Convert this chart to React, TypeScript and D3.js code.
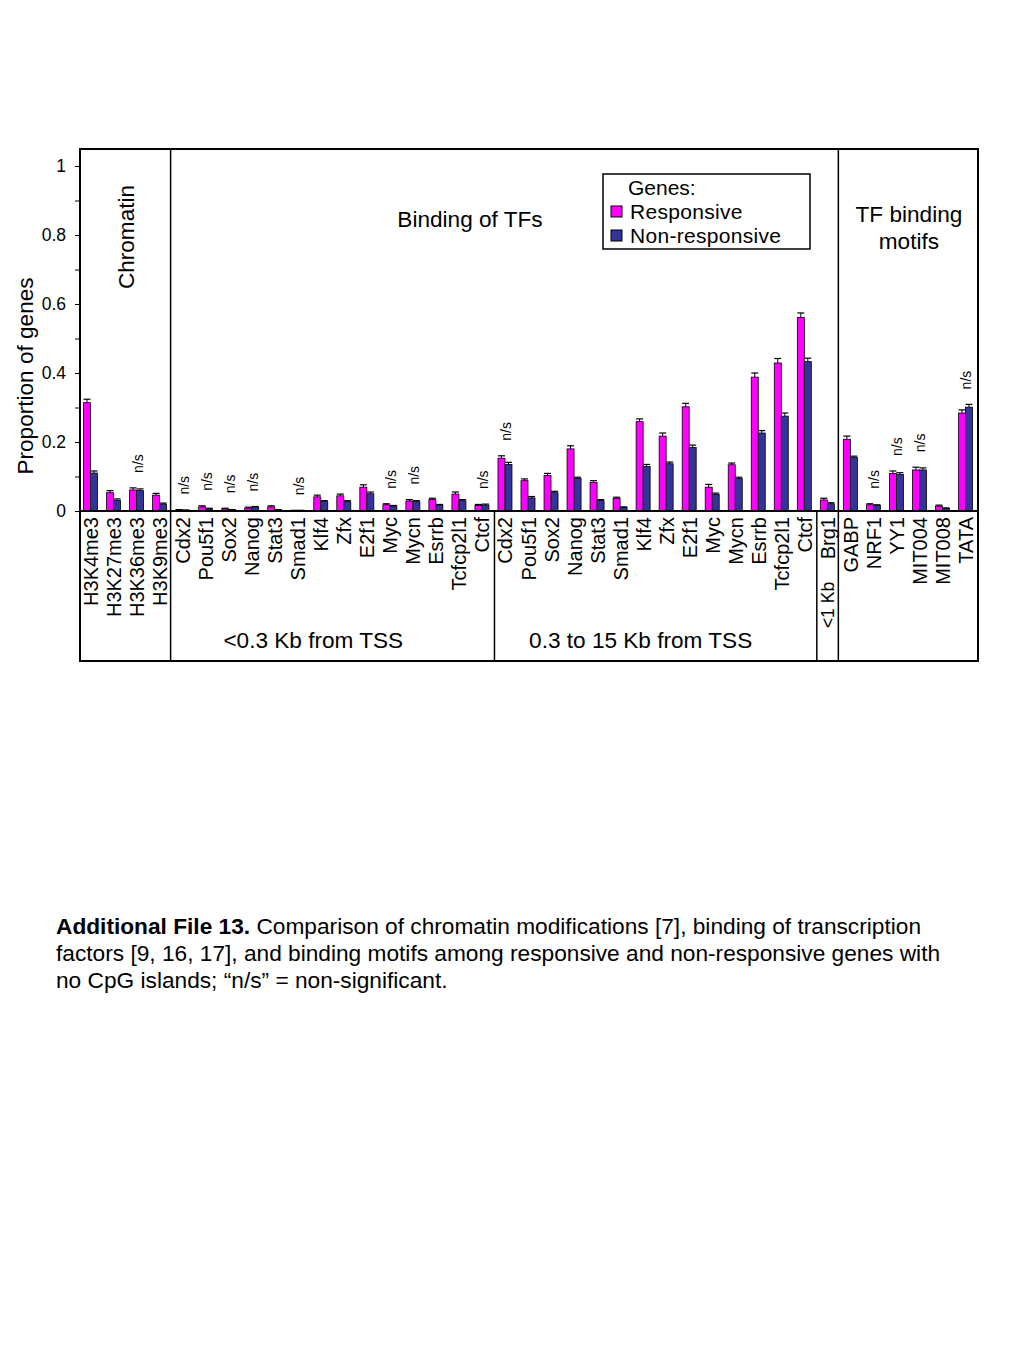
import React, { useEffect, useRef } from "react";
import * as d3 from "d3";

// Chart data
const categories = [
  "H3K4me3", "H3K27me3", "H3K36me3", "H3K9me3",
  "Cdx2", "Pou5f1", "Sox2", "Nanog", "Stat3", "Smad1", "Klf4", "Zfx", "E2f1", "Myc", "Mycn", "Esrrb", "Tcfcp2l1", "Ctcf",
  "Cdx2", "Pou5f1", "Sox2", "Nanog", "Stat3", "Smad1", "Klf4", "Zfx", "E2f1", "Myc", "Mycn", "Esrrb", "Tcfcp2l1", "Ctcf",
  "Brg1",
  "GABP", "NRF1", "YY1", "MIT004", "MIT008", "TATA",
];

const responsive = [
  0.314, 0.053, 0.061, 0.046,
  0.002, 0.012, 0.006, 0.008, 0.012, 0.001, 0.041, 0.044, 0.069, 0.018, 0.029, 0.033, 0.049, 0.016,
  0.153, 0.088, 0.103, 0.18, 0.083, 0.036, 0.259, 0.217, 0.302, 0.069, 0.134, 0.388, 0.429, 0.561,
  0.032,
  0.208, 0.018, 0.109, 0.119, 0.014, 0.284,
];

const nonResponsive = [
  0.11, 0.031, 0.059, 0.02,
  0.002, 0.006, 0.003, 0.011, 0.003, 0.001, 0.027, 0.027, 0.05, 0.014, 0.027, 0.017, 0.03, 0.017,
  0.135, 0.038, 0.053, 0.094, 0.03, 0.01, 0.129, 0.137, 0.184, 0.048, 0.094, 0.226, 0.275, 0.433,
  0.021,
  0.155, 0.016, 0.106, 0.119, 0.007, 0.301,
];

const responsiveErr = [
  0.01, 0.006, 0.006, 0.005,
  0.002, 0.003, 0.002, 0.003, 0.003, 0.001, 0.005, 0.005, 0.007, 0.003, 0.004, 0.004, 0.006, 0.003,
  0.007, 0.005, 0.006, 0.009, 0.005, 0.004, 0.008, 0.009, 0.01, 0.008, 0.005, 0.012, 0.013, 0.013,
  0.005,
  0.009, 0.003, 0.007, 0.008, 0.003, 0.009,
];

const nonResponsiveErr = [
  0.006, 0.004, 0.005, 0.003,
  0.001, 0.002, 0.001, 0.002, 0.001, 0.001, 0.003, 0.003, 0.005, 0.002, 0.003, 0.002, 0.003, 0.003,
  0.006, 0.004, 0.004, 0.004, 0.003, 0.002, 0.006, 0.005, 0.007, 0.004, 0.004, 0.007, 0.009, 0.01,
  0.003,
  0.004, 0.002, 0.005, 0.006, 0.002, 0.008,
];

// indices of categories marked "n/s"
const nsIndex = [2, 4, 5, 6, 7, 9, 13, 14, 17, 18, 34, 35, 36, 38];

const yTickValues = [0, 0.1, 0.2, 0.3, 0.4, 0.5, 0.6, 0.7, 0.8, 0.9, 1];
const legendLabels = ["Responsive", "Non-responsive"];

const captionLines = [
  "Comparison of chromatin modifications [7], binding of transcription",
  "factors [9, 16, 17], and binding motifs among responsive and non-responsive genes with",
  "no CpG islands; \u201cn/s\u201d = non-significant.",
];

const App: React.FC = () => {
  const svgRef = useRef<SVGSVGElement | null>(null);
  const width = 1024;
  const height = 1365;
  const boxLeft = 80;
  const boxRight = 978;
  const boxTop = 149;
  const boxBottom = 661;
  const respColor = "#ff00ff";
  const nonRespColor = "#333399";
  const font = "'Liberation Sans', Arial, Helvetica, sans-serif";
  const titleSize = "22.6px";

  useEffect(() => {
    if (!svgRef.current) return;
    const svg = d3.select(svgRef.current);
    svg.selectAll("*").remove();
    svg.style("font-family", font);

    const xScale = d3
      .scaleBand<number>()
      .domain(d3.range(categories.length))
      .range([boxLeft, boxRight]);
    const yScale = d3.scaleLinear().domain([0, 1]).range([511, 166]);
    const y0 = yScale(0);
    const barW = 7;
    const bw = xScale.bandwidth();
    const cx = (i: number) => (xScale(i) as number) + bw / 2;
    const edge = (i: number) => xScale(i) as number;

    // outer frame
    svg
      .append("rect")
      .attr("x", boxLeft)
      .attr("y", boxTop)
      .attr("width", boxRight - boxLeft)
      .attr("height", boxBottom - boxTop)
      .attr("fill", "none")
      .attr("stroke", "#000")
      .attr("stroke-width", 2);

    // section dividers
    const fullDividers = [4, 33];
    const lowerDividers = [18, 32];
    fullDividers.forEach((i) =>
      svg
        .append("line")
        .attr("x1", edge(i) - 1.5)
        .attr("x2", edge(i) - 1.5)
        .attr("y1", boxTop)
        .attr("y2", boxBottom)
        .attr("stroke", "#000")
        .attr("stroke-width", 1.5)
    );
    lowerDividers.forEach((i) =>
      svg
        .append("line")
        .attr("x1", edge(i))
        .attr("x2", edge(i))
        .attr("y1", y0)
        .attr("y2", boxBottom)
        .attr("stroke", "#000")
        .attr("stroke-width", 1.5)
    );

    // y axis
    const yAxis = d3
      .axisLeft(yScale)
      .tickValues(yTickValues)
      .tickSize(5)
      .tickPadding(9)
      .tickFormat((d, i) => (i % 2 === 0 ? String(d) : ""));
    const yAxisG = svg
      .append("g")
      .attr("transform", `translate(${boxLeft},0)`)
      .call(yAxis);
    yAxisG.select(".domain").remove();
    yAxisG.selectAll("line").attr("stroke", "#000");
    yAxisG.selectAll("text").style("font-size", "17.5px").style("font-family", font).attr("fill", "#000");

    // y axis title
    svg
      .append("text")
      .attr("transform", `translate(33,376) rotate(-90)`)
      .attr("text-anchor", "middle")
      .style("font-size", titleSize)
      .text("Proportion of genes");

    // bars
    const series = [
      { values: responsive, errs: responsiveErr, color: respColor, offset: -barW },
      { values: nonResponsive, errs: nonResponsiveErr, color: nonRespColor, offset: 0 },
    ];
    series.forEach((s) => {
      const g = svg.append("g");
      g.selectAll("rect")
        .data(s.values)
        .enter()
        .append("rect")
        .attr("x", (_d, i) => cx(i) + s.offset - 1)
        .attr("y", (d) => yScale(d))
        .attr("width", barW)
        .attr("height", (d) => y0 - yScale(d))
        .attr("fill", s.color)
        .attr("stroke", "#000")
        .attr("stroke-width", 0.8);

      // error bars
      s.values.forEach((v, i) => {
        const x = cx(i) + s.offset - 1 + barW / 2;
        const yTop = yScale(v + s.errs[i]);
        g.append("line")
          .attr("x1", x)
          .attr("x2", x)
          .attr("y1", yScale(v))
          .attr("y2", yTop)
          .attr("stroke", "#000")
          .attr("stroke-width", 1);
        g.append("line")
          .attr("x1", x - 3.5)
          .attr("x2", x + 3.5)
          .attr("y1", yTop)
          .attr("y2", yTop)
          .attr("stroke", "#000")
          .attr("stroke-width", 1.2);
      });
    });

    // baseline
    svg
      .append("line")
      .attr("x1", boxLeft)
      .attr("x2", boxRight)
      .attr("y1", y0)
      .attr("y2", y0)
      .attr("stroke", "#000")
      .attr("stroke-width", 2);

    // n/s marks
    nsIndex.forEach((i) => {
      const topVal = Math.max(
        responsive[i] + responsiveErr[i],
        nonResponsive[i] + nonResponsiveErr[i]
      );
      svg
        .append("text")
        .attr("transform", `translate(${cx(i) + 5},${yScale(topVal) - 15}) rotate(-90)`)
        .attr("text-anchor", "start")
        .style("font-size", "14px")
        .text("n/s");
    });

    // category labels
    svg
      .append("g")
      .selectAll("text")
      .data(categories)
      .enter()
      .append("text")
      .attr("transform", (_d, i) => `translate(${cx(i) + 6.5},${y0 + 6}) rotate(-90)`)
      .attr("text-anchor", "end")
      .style("font-size", "20px")
      .text((d) => d);

    // section titles
    svg
      .append("text")
      .attr("transform", `translate(${(boxLeft + edge(4)) / 2 + 8},237) rotate(-90)`)
      .attr("text-anchor", "middle")
      .style("font-size", titleSize)
      .text("Chromatin");
    svg
      .append("text")
      .attr("x", 470)
      .attr("y", 227)
      .attr("text-anchor", "middle")
      .style("font-size", titleSize)
      .text("Binding of TFs");
    const motifX = (edge(33) + boxRight) / 2;
    ["TF binding", "motifs"].forEach((t, k) =>
      svg
        .append("text")
        .attr("x", motifX)
        .attr("y", 222 + k * 27)
        .attr("text-anchor", "middle")
        .style("font-size", titleSize)
        .text(t)
    );

    // distance groups under the axis
    svg
      .append("text")
      .attr("x", (edge(4) + edge(18)) / 2 - 20)
      .attr("y", 648)
      .attr("text-anchor", "middle")
      .style("font-size", titleSize)
      .text("<0.3 Kb from TSS");
    svg
      .append("text")
      .attr("x", (edge(18) + edge(32)) / 2 - 15)
      .attr("y", 648)
      .attr("text-anchor", "middle")
      .style("font-size", titleSize)
      .text("0.3 to 15 Kb from TSS");
    svg
      .append("text")
      .attr("transform", `translate(${cx(32) + 6},605) rotate(-90)`)
      .attr("text-anchor", "middle")
      .style("font-size", "17.5px")
      .text("<1 Kb");

    // legend
    const legendSize = "21px";
    const legend = svg.append("g").attr("transform", "translate(603,174)");
    legend
      .append("rect")
      .attr("width", 207)
      .attr("height", 75)
      .attr("fill", "#fff")
      .attr("stroke", "#000")
      .attr("stroke-width", 1.5);
    legend
      .append("text")
      .attr("x", 25)
      .attr("y", 21)
      .style("font-size", legendSize)
      .text("Genes:");
    [respColor, nonRespColor].forEach((c, k) => {
      legend
        .append("rect")
        .attr("x", 8)
        .attr("y", 32 + k * 24)
        .attr("width", 11)
        .attr("height", 11)
        .attr("fill", c)
        .attr("stroke", "#000")
        .attr("stroke-width", 1);
      legend
        .append("text")
        .attr("x", 27)
        .attr("y", 45 + k * 24)
        .style("font-size", legendSize)
        .style("letter-spacing", "0.3px")
        .text(legendLabels[k]);
    });

    // caption
    const caption = svg.append("g").style("font-size", "22.7px");
    captionLines.forEach((line, k) => {
      const t = caption
        .append("text")
        .attr("x", 56)
        .attr("y", 934 + k * 27);
      if (k === 0) {
        t.append("tspan").style("font-weight", "bold").text("Additional File 13.");
        t.append("tspan").text(" " + line);
      } else {
        t.text(line);
      }
    });
  }, []);

  return (
    <svg
      ref={svgRef}
      width={width}
      height={height}
      style={{ position: "absolute", left: 0, top: 0, background: "#fff" }}
    ></svg>
  );
};

export default App;
